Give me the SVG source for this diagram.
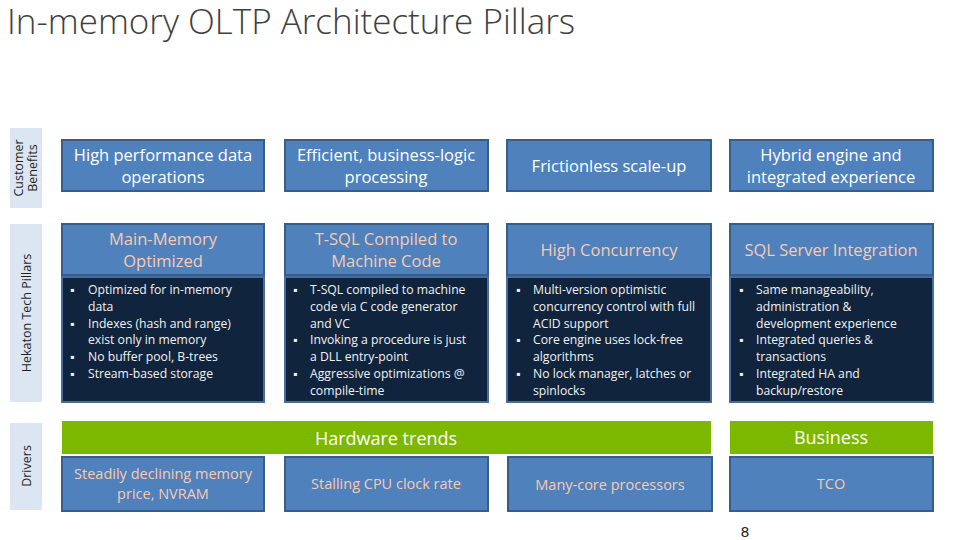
<svg xmlns="http://www.w3.org/2000/svg" width="960" height="540" viewBox="0 0 960 540">
<style>
text{font-family:"Open Sans","Noto Sans","Liberation Sans",sans-serif}
.side{fill:#dce6f2}
.sidet{fill:#1f1f1f;font-size:12.5px;text-anchor:middle}
.box{fill:#4f81bd;stroke:#385d8a;stroke-width:2}
.body{fill:#10243e;stroke:#4a6c9b;stroke-width:2}
.green{fill:#7db800}
.t1{fill:#ffffff;font-size:16.5px;text-anchor:middle}
.t2{fill:#f6cbb0;font-size:16.5px;text-anchor:middle}
.t3{fill:#f6cbb0;font-size:14.5px;text-anchor:middle}
.tg{fill:#ffffff;font-size:18px;text-anchor:middle}
.b{fill:#f2f2f2;font-size:12.2px}
</style>
<rect width="960" height="540" fill="#ffffff"/>
<text x="7" y="34" font-size="35" font-weight="300" fill="#404040">In-memory OLTP Architecture Pillars</text>

<g id="side-customer">
<rect class="side" x="10" y="128" width="32" height="80"/>
<text class="sidet" transform="translate(26,168) rotate(-90)"><tspan x="0" y="-3">Customer</tspan><tspan x="0" y="11">Benefits</tspan></text>
</g>
<g id="side-pillars">
<rect class="side" x="10" y="224" width="32" height="178"/>
<text class="sidet" transform="translate(26,313) rotate(-90)" y="5">Hekaton Tech Pillars</text>
</g>
<g id="side-drivers">
<rect class="side" x="10" y="423" width="32" height="87"/>
<text class="sidet" transform="translate(26,466) rotate(-90)" y="5">Drivers</text>
</g>

<g id="benefit-1"><rect class="box" x="62" y="140" width="202" height="51"/>
<text class="t1" x="163" y="161">High performance data<tspan x="163" y="183">operations</tspan></text></g>
<g id="benefit-2"><rect class="box" x="285" y="140" width="203" height="51"/>
<text class="t1" x="386" y="161">Efficient, business-logic<tspan x="386" y="183">processing</tspan></text></g>
<g id="benefit-3"><rect class="box" x="507" y="140" width="204" height="51"/>
<text class="t1" x="609" y="172">Frictionless scale-up</text></g>
<g id="benefit-4"><rect class="box" x="730" y="140" width="203" height="51"/>
<text class="t1" x="831" y="161">Hybrid engine and<tspan x="831" y="183">integrated experience</tspan></text></g>

<g id="pillar-1"><rect class="box" x="62" y="224" width="202" height="51"/>
<text class="t2" x="163" y="245">Main-Memory<tspan x="163" y="267">Optimized</tspan></text></g>
<g id="pillar-2"><rect class="box" x="285" y="224" width="203" height="51"/>
<text class="t2" x="386" y="245">T-SQL Compiled to<tspan x="386" y="267">Machine Code</tspan></text></g>
<g id="pillar-3"><rect class="box" x="507" y="224" width="204" height="51"/>
<text class="t2" x="609" y="256">High Concurrency</text></g>
<g id="pillar-4"><rect class="box" x="730" y="224" width="203" height="51"/>
<text class="t2" x="831" y="256">SQL Server Integration</text></g>

<g id="detail-1"><rect class="body" x="62" y="277" width="202" height="125"/>
<text class="b"><tspan x="70" y="294">▪</tspan><tspan x="88" y="294">Optimized for in-memory</tspan><tspan x="88" y="311">data</tspan><tspan x="70" y="328">▪</tspan><tspan x="88" y="328">Indexes (hash and range)</tspan><tspan x="88" y="344">exist only in memory</tspan><tspan x="70" y="361">▪</tspan><tspan x="88" y="361">No buffer pool, B-trees</tspan><tspan x="70" y="378">▪</tspan><tspan x="88" y="378">Stream-based storage</tspan></text></g>
<g id="detail-2"><rect class="body" x="285" y="277" width="203" height="125"/>
<text class="b"><tspan x="293" y="294">▪</tspan><tspan x="310" y="294">T-SQL compiled to machine</tspan><tspan x="310" y="311">code via C code generator</tspan><tspan x="310" y="328">and VC</tspan><tspan x="293" y="344">▪</tspan><tspan x="310" y="344">Invoking a procedure is just</tspan><tspan x="310" y="361">a DLL entry-point</tspan><tspan x="293" y="378">▪</tspan><tspan x="310" y="378">Aggressive optimizations @</tspan><tspan x="310" y="395">compile-time</tspan></text></g>
<g id="detail-3"><rect class="body" x="507" y="277" width="204" height="125"/>
<text class="b"><tspan x="516" y="294">▪</tspan><tspan x="533" y="294">Multi-version optimistic</tspan><tspan x="533" y="311">concurrency control with full</tspan><tspan x="533" y="328">ACID support</tspan><tspan x="516" y="344">▪</tspan><tspan x="533" y="344">Core engine uses lock-free</tspan><tspan x="533" y="361">algorithms</tspan><tspan x="516" y="378">▪</tspan><tspan x="533" y="378">No lock manager, latches or</tspan><tspan x="533" y="395">spinlocks</tspan></text></g>
<g id="detail-4"><rect class="body" x="730" y="277" width="203" height="125"/>
<text class="b"><tspan x="739" y="294">▪</tspan><tspan x="756" y="294">Same manageability,</tspan><tspan x="756" y="311">administration &amp;</tspan><tspan x="756" y="328">development experience</tspan><tspan x="739" y="344">▪</tspan><tspan x="756" y="344">Integrated queries &amp;</tspan><tspan x="756" y="361">transactions</tspan><tspan x="739" y="378">▪</tspan><tspan x="756" y="378">Integrated HA and</tspan><tspan x="756" y="395">backup/restore</tspan></text></g>

<g id="hardware-trends"><rect class="green" x="62" y="421" width="649" height="33"/>
<text class="tg" x="386" y="445">Hardware trends</text></g>
<g id="business"><rect class="green" x="730" y="421" width="203" height="33"/>
<text class="tg" x="831" y="444">Business</text></g>

<g id="driver-1"><rect class="box" x="62" y="457" width="202" height="54"/>
<text class="t3" x="163" y="479">Steadily declining memory<tspan x="163" y="499">price, NVRAM</tspan></text></g>
<g id="driver-2"><rect class="box" x="285" y="457" width="203" height="54"/>
<text class="t3" x="386" y="489">Stalling CPU clock rate</text></g>
<g id="driver-3"><rect class="box" x="508" y="457" width="204" height="54"/>
<text class="t3" x="610" y="490">Many-core processors</text></g>
<g id="driver-4"><rect class="box" x="730" y="457" width="203" height="54"/>
<text class="t3" x="831" y="489">TCO</text></g>

<g id="connectors"></g>
<text x="745" y="537" font-size="14" fill="#222" style="font-family:'DejaVu Sans',sans-serif" text-anchor="middle">8</text>
</svg>
